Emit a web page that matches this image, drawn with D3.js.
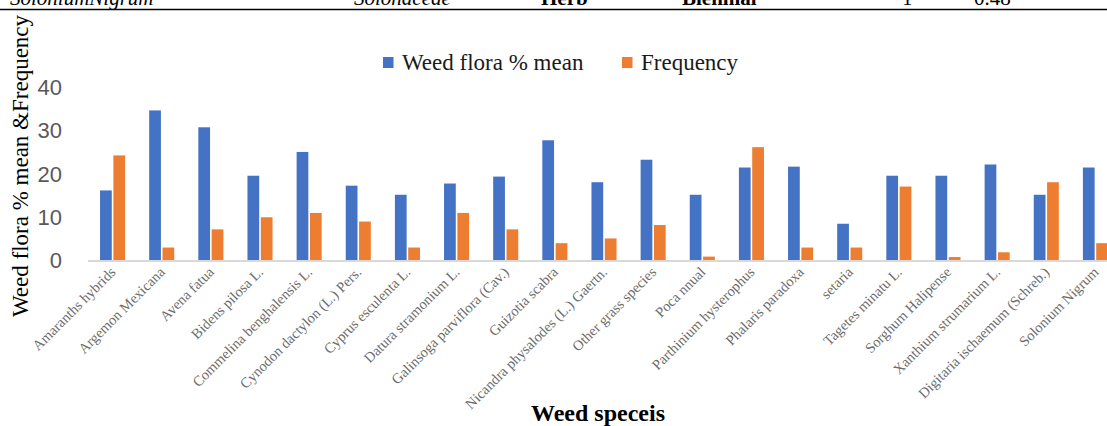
<!DOCTYPE html>
<html>
<head>
<meta charset="utf-8">
<script src="https://cdn.jsdelivr.net/npm/d3@7"></script>
<style>
  html, body { margin: 0; padding: 0; background: #fff; }
  svg { display: block; }
</style>
</head>
<body>
<svg id="chart" width="1107" height="426"></svg>
<script>
// Weed species surveyed
const species = [
  "Amaranths hybrids", "Argemon Mexicana", "Avena fatua", "Bidens pilosa L.",
  "Commelina benghalensis L.", "Cynodon dactylon (L.) Pers.", "Cyprus esculenta L.",
  "Datura stramonium L.", "Galinsoga parviflora (Cav.)", "Guizotia scabra",
  "Nicandra physalodes (L.) Gaertn.", "Other grass species", "Poca nnual",
  "Parthinium hysterophus", "Phalaris paradoxa", "setaria", "Tagetes minatu L.",
  "Sorghum Halipense", "Xanthium strumarium L.", "Digitaria ischaemum (Schreb.)",
  "Solonium  Nigrum"
];

// Weed flora % mean per species
const floraMean = [
  16.2, 34.7, 30.8, 19.6, 25.1, 17.3, 15.2, 17.8, 19.4, 27.8, 18.1,
  23.3, 15.2, 21.5, 21.7, 8.5, 19.6, 19.6, 22.2, 15.2, 21.5
];

// Frequency per species
const frequency = [
  24.3, 3, 7.2, 10, 11, 9, 3, 11, 7.2, 4, 5.1,
  8.2, 0.9, 26.2, 3, 3, 17.1, 0.8, 1.9, 18.1, 4
];

const seriesNames = ["Weed flora % mean", "Frequency"];
const seriesColors = ["#4472C4", "#ED7D31"];
const yTicks = [0, 10, 20, 30, 40];

// Table row that sits above the figure
const tableRow = [
  { text: "SoloniumNigrum", x: 10, italic: true, bold: false },
  { text: "Solonaceae", x: 354, italic: true, bold: false },
  { text: "Herb", x: 541, italic: false, bold: true },
  { text: "Biennial", x: 682, italic: false, bold: true },
  { text: "1", x: 902, italic: false, bold: false },
  { text: "0.48", x: 974, italic: false, bold: false }
];

const SERIF = "'Liberation Serif', 'Times New Roman', serif";
const SANS = "'Liberation Sans', Arial, sans-serif";

const rows = species.map((s, i) => ({ name: s, values: [floraMean[i], frequency[i]] }));

const svg = d3.select("#chart");
const W = 1107;

// table rule and the row above it
svg.selectAll("text.row")
  .data(tableRow)
  .join("text")
  .attr("class", "row")
  .attr("x", d => d.x)
  .attr("y", 5)
  .style("font-family", SERIF)
  .attr("font-size", 21)
  .attr("font-style", d => d.italic ? "italic" : "normal")
  .attr("font-weight", d => d.bold ? "bold" : "normal")
  .attr("fill", "#000")
  .text(d => d.text);

svg.append("line")
  .attr("x1", 0).attr("x2", W)
  .attr("y1", 9.5).attr("y2", 9.5)
  .attr("stroke", "#000").attr("stroke-width", 1.6);

// scales
const x0 = d3.scaleBand()
  .domain(species)
  .range([88, 1120])
  .paddingInner(0.49)
  .paddingOuter(0.245);

const x1 = d3.scaleBand()
  .domain(seriesNames)
  .range([0, x0.bandwidth()])
  .paddingInner(0.12);

const y = d3.scaleLinear().domain([0, 40]).range([260.5, 87.5]);

// y tick labels
const yAxis = d3.axisLeft(y).tickValues(yTicks).tickSize(0).tickPadding(0);
const gy = svg.append("g").attr("transform", "translate(62,0)").call(yAxis);
gy.select(".domain").remove();
gy.selectAll("text")
  .style("font-family", SANS)
  .attr("font-size", 22)
  .attr("fill", "#595959");

// bars
const groups = svg.append("g")
  .selectAll("g")
  .data(rows)
  .join("g")
  .attr("transform", d => `translate(${x0(d.name)},0)`);

groups.selectAll("rect")
  .data(d => d.values.map((v, k) => ({ key: seriesNames[k], value: v, k })))
  .join("rect")
  .attr("x", d => x1(d.key))
  .attr("width", x1.bandwidth())
  .attr("y", d => y(d.value))
  .attr("height", d => y(0) - y(d.value))
  .attr("fill", d => seriesColors[d.k]);

// category axis line
svg.append("line")
  .attr("x1", 88).attr("x2", W)
  .attr("y1", y(0) + 0.5).attr("y2", y(0) + 0.5)
  .attr("stroke", "#d9d9d9").attr("stroke-width", 2);

// category labels
const xAxis = d3.axisBottom(x0).tickSize(0).tickPadding(0);
const gx = svg.append("g").call(xAxis);
gx.select(".domain").remove();
gx.selectAll(".tick").attr("transform", d => `translate(${x0(d) + x0.bandwidth() / 2 + 4},273)`);
gx.selectAll(".tick text")
  .attr("y", 0).attr("dy", 0)
  .attr("text-anchor", "end")
  .attr("transform", "rotate(-45)")
  .style("font-family", SERIF)
  .attr("font-size", 14.5)
  .attr("fill", "#6b6b6b");

// legend
const legend = svg.append("g");
const legendX = [383, 622];
seriesNames.forEach((name, k) => {
  legend.append("rect")
    .attr("x", legendX[k]).attr("y", 57)
    .attr("width", 10.5).attr("height", 11)
    .attr("fill", seriesColors[k]);
  legend.append("text")
    .attr("x", legendX[k] + 19).attr("y", 70)
    .style("font-family", SERIF)
    .attr("font-size", 23)
    .attr("fill", "#1a1a1a")
    .text(name);
});

// axis titles
svg.append("text")
  .attr("transform", "translate(28,166) rotate(-90)")
  .attr("text-anchor", "middle")
  .style("font-family", SERIF)
  .attr("font-size", 23)
  .attr("fill", "#000")
  .text("Weed flora % mean &Frequency");

svg.append("text")
  .attr("x", 598).attr("y", 421)
  .attr("text-anchor", "middle")
  .style("font-family", SERIF)
  .attr("font-weight", "bold")
  .attr("font-size", 24)
  .attr("fill", "#000")
  .text("Weed speceis");
</script>
</body>
</html>
